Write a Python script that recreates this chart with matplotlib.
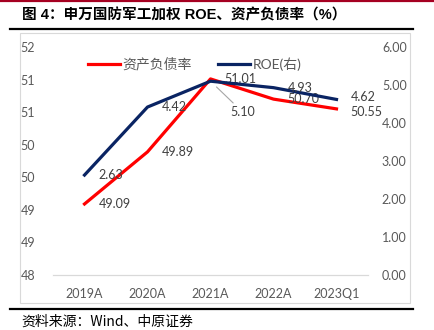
import matplotlib.pyplot as plt
from matplotlib.lines import Line2D
from matplotlib.patches import Rectangle

# data
periods = ["2019A", "2020A", "2021A", "2022A", "2023Q1"]
debt_ratio = [49.09, 49.89, 51.01, 50.70, 50.55]
roe = [2.63, 4.42, 5.10, 4.93, 4.62]
left_ticks = [48, 48.5, 49, 49.5, 50, 50.5, 51, 51.5]
left_tick_labels = ["48", "49", "49", "50", "50", "51", "51", "52"]
right_ticks = [0, 1, 2, 3, 4, 5, 6]

RED = "#FF0000"
NAVY = "#0A2463"
GREY_TXT = "#595959"
LABEL_TXT = "#404040"
NUM_FONT = ["Lato", "Noto Sans CJK SC"]
CJK_FONT = ["Noto Sans CJK SC", "DejaVu Sans"]

W, H = 435, 330
fig = plt.figure(figsize=(W / 100, H / 100), dpi=100)


def fx(px):
    return px / W


def fy(py):
    return 1 - py / H


# page decorations: top red rule, title rules, chart frame
fig.add_artist(Line2D([0, 1], [fy(1), fy(1)], color="#A50021", lw=1.6))
fig.add_artist(Line2D([fx(10), fx(413)], [fy(29), fy(29)], color="black", lw=1.6))
fig.add_artist(Line2D([fx(10), fx(413)], [fy(309), fy(309)], color="black", lw=1.6))
fig.add_artist(Rectangle((fx(20), fy(303)), fx(390), (270 / H), fill=False,
                         edgecolor="#D9D9D9", lw=0.8))

fig.text(fx(22), fy(15), "图 4：申万国防军工加权 ROE、资产负债率（%）",
         family=["Liberation Sans", "Noto Sans CJK SC"], fontweight="bold",
         fontsize=10.5, va="center", ha="left")
fig.text(fx(21), fy(322), "资料来源：Wind、中原证券", family=CJK_FONT,
         fontsize=10, va="center", ha="left")

ax1 = fig.add_axes([fx(53), fy(275), fx(315), 228 / H])
ax2 = ax1.twinx()

x = list(range(len(periods)))
l1, = ax1.plot(x, debt_ratio, color=RED, lw=2.3, solid_joinstyle="round", zorder=3)
l2, = ax2.plot(x, roe, color=NAVY, lw=2.3, solid_joinstyle="round", zorder=3)

ax1.set_xlim(-0.5, len(periods) - 0.5)
ax1.set_ylim(48, 51.5)
ax2.set_ylim(0, 6)
ax1.set_yticks(left_ticks)
ax1.set_yticklabels(left_tick_labels)
ax2.set_yticks(right_ticks)
ax2.set_yticklabels([f"{v:.2f}" for v in right_ticks])
ax1.set_xticks(x)
ax1.set_xticklabels(periods)

for ax in (ax1, ax2):
    for side in ("top", "left", "right"):
        ax.spines[side].set_visible(False)
    ax.spines["bottom"].set_color("#D9D9D9")
    ax.spines["bottom"].set_linewidth(0.8)
    ax.tick_params(length=0, labelsize=9, labelcolor=GREY_TXT)
    for lab in ax.get_xticklabels() + ax.get_yticklabels():
        lab.set_family(NUM_FONT)
ax1.tick_params(axis="y", pad=13)
ax2.tick_params(axis="y", pad=10)
ax1.tick_params(axis="x", pad=9)
ax2.set_zorder(ax1.get_zorder() + 1)

# data labels (last pair nudged a little apart, they sit on top of each other)
for xi, v in zip(x, debt_ratio):
    dy = -2 if xi == len(x) - 1 else 0
    ax1.annotate(f"{v:.2f}", (xi, v), xytext=(10, dy), textcoords="offset points",
                 ha="left", va="center", fontsize=9, color=LABEL_TXT, family=NUM_FONT)
for xi, v in zip(x, roe):
    if periods[xi] == "2021A":
        ax2.annotate(f"{v:.2f}", (xi, v), xytext=(14, -22), textcoords="offset points",
                     ha="left", va="center", fontsize=9, color=LABEL_TXT, family=NUM_FONT,
                     arrowprops=dict(arrowstyle="-", color="#A6A6A6", lw=0.8,
                                     shrinkA=0, shrinkB=6))
    else:
        dy = 2 if xi == len(x) - 1 else 0
        ax2.annotate(f"{v:.2f}", (xi, v), xytext=(10, dy), textcoords="offset points",
                     ha="left", va="center", fontsize=9, color=LABEL_TXT, family=NUM_FONT)

fig.legend([l1, l2], ["资产负债率", "ROE(右)"], loc="center left",
           bbox_to_anchor=(fx(88), fy(64)), ncol=2, frameon=False,
           handlelength=2.3, handletextpad=0.2, columnspacing=1.9,
           borderpad=0, borderaxespad=0, labelcolor=GREY_TXT,
           prop={"family": NUM_FONT, "size": 10})

fig.savefig("out.png", dpi=100)
